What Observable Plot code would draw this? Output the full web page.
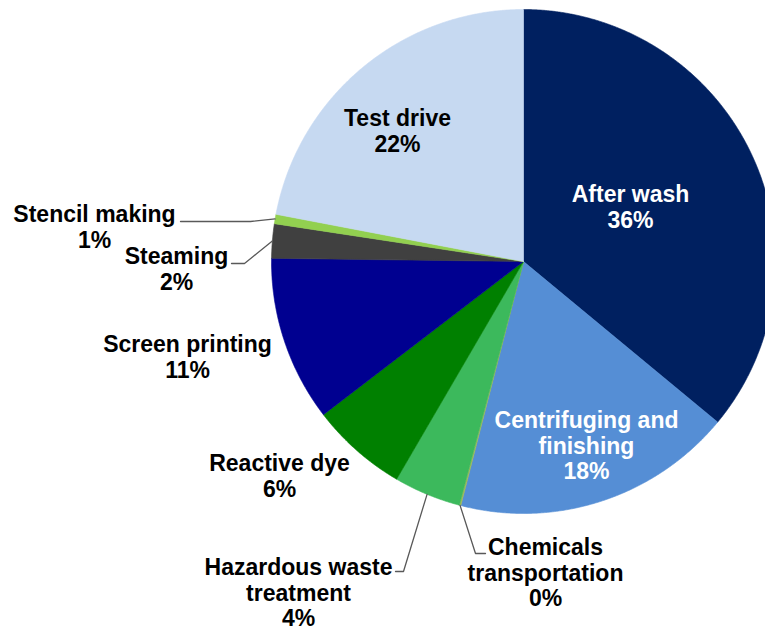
<!DOCTYPE html>
<html><head><meta charset="utf-8">
<script src="https://cdn.jsdelivr.net/npm/d3@7"></script>
<script src="https://cdn.jsdelivr.net/npm/@observablehq/plot@0.6"></script>
<style>
html,body{margin:0;padding:0;background:#fff;overflow:hidden;}
#chart svg{overflow:hidden;display:block;}
</style></head><body><div id="chart"></div>
<script>
// ---- data ----
const categories = ["After wash","Centrifuging and finishing","Chemicals transportation","Hazardous waste treatment","Reactive dye","Screen printing","Steaming","Stencil making","Test drive"];
const values = [36.0, 18.0, 0.1, 4.3, 6.2, 10.6, 2.2, 0.6, 22.0];
const colors = ["#002060","#558ED5","#9BBB59","#3CB95C","#008000","#000090","#404040","#92D050","#C6D9F1"];
const labelText = ["After wash","Centrifuging and\nfinishing","Chemicals\ntransportation","Hazardous waste\ntreatment","Reactive dye","Screen printing","Steaming","Stencil making","Test drive"];
const whiteLabels = ["After wash","Centrifuging and finishing"];

// ---- layout ----
const W = 765, H = 632, cx = 523, cy = 261, R = 252;
const labelPos = [[630,183],[586,409],[545,536],[298,556],[279,452],[187,333],[176,245],[94,203],[397,107]];
const leaderElbows = {
  "Chemicals transportation": [[475,553],[485,553]],
  "Hazardous waste treatment": [[403,571],[395,571]],
  "Steaming": [[244,263],[231,263]],
  "Stencil making": [[250,221],[180,221]]
};

const total = d3.sum(values);
const arcs = d3.pie().sort(null).startAngle(0).endAngle(2 * Math.PI)(values);
const pt = (a, r) => [cx + r * Math.sin(a), cy - r * Math.cos(a)];

const slicePts = [];
arcs.forEach((a, i) => {
  const name = categories[i];
  slicePts.push({name, x: cx, y: cy});
  const n = Math.max(2, Math.ceil((a.endAngle - a.startAngle) / (Math.PI / 720)));
  for (let k = 0; k <= n; k++) {
    const t = a.startAngle + (a.endAngle - a.startAngle) * k / n;
    const [x, y] = pt(t, R);
    slicePts.push({name, x, y});
  }
  slicePts.push({name, x: cx, y: cy});
});

const leaderPts = [];
arcs.forEach((a, i) => {
  const name = categories[i];
  const el = leaderElbows[name];
  if (!el) return;
  const [x0, y0] = pt((a.startAngle + a.endAngle) / 2, R);
  leaderPts.push({name, x: x0, y: y0});
  el.forEach(([x, y]) => leaderPts.push({name, x, y}));
});

const labels = categories.map((c, i) => ({
  name: c,
  x: labelPos[i][0],
  y: labelPos[i][1],
  text: labelText[i] + "\n" + Math.round(values[i] / total * 100) + "%"
}));

const textOpts = {x: "x", y: "y", text: "text", textAnchor: "middle", lineAnchor: "top",
  fontSize: 23, fontWeight: "bold", lineHeight: 1.12};

const chart = Plot.plot({
  width: W, height: H, margin: 0,
  style: {fontFamily: "'Liberation Sans', Arial, sans-serif", background: "#fff"},
  x: {domain: [0, W], range: [0, W], axis: null},
  y: {domain: [0, H], range: [0, H], axis: null},
  color: {domain: categories, range: colors},
  marks: [
    Plot.line(slicePts, {x: "x", y: "y", z: "name", fill: "name", stroke: "name", strokeWidth: 0.6, curve: "linear"}),
    Plot.line(leaderPts, {x: "x", y: "y", z: "name", stroke: "#595959", strokeWidth: 1.3, curve: "linear"}),
    Plot.text(labels.filter(d => whiteLabels.includes(d.name)), {...textOpts, fill: "white"}),
    Plot.text(labels.filter(d => !whiteLabels.includes(d.name)), {...textOpts, fill: "black"})
  ]
});
document.getElementById("chart").append(chart);
</script></body></html>
